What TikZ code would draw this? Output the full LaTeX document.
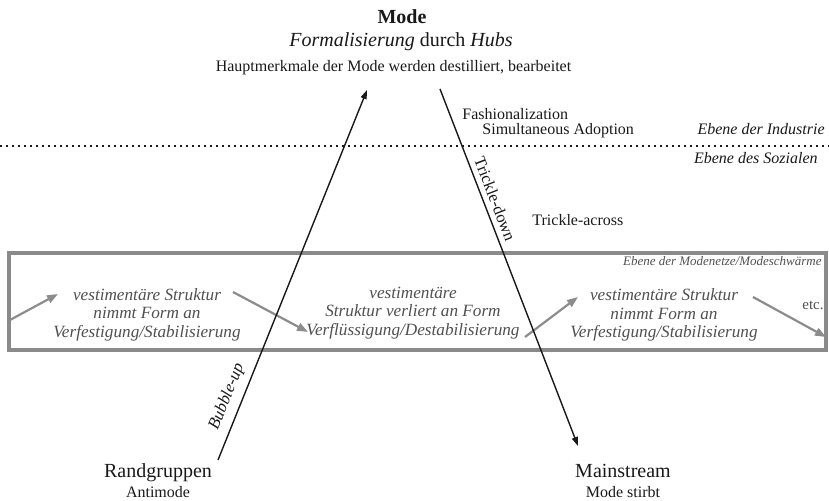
\documentclass[tikz,border=0pt]{standalone}
\usepackage{fontspec}
\setmainfont{Liberation Serif}
\usetikzlibrary{arrows.meta}
\definecolor{boxgray}{RGB}{138,138,138}
\definecolor{arrgray}{RGB}{140,140,140}
\definecolor{boxtext}{RGB}{80,80,80}
\definecolor{ink}{RGB}{25,25,25}
\begin{document}
\begin{tikzpicture}[x=0.5pt,y=-0.5pt,
  lbl/.style={inner sep=0pt,anchor=base,text=ink},
  big/.style={font=\fontsize{10}{12}\selectfont},
  small/.style={font=\fontsize{8}{9.6}\selectfont},
  blk/.style={inner sep=0pt,align=center,text=boxtext,font=\fontsize{8.6}{9.25}\selectfont\itshape},
  flow/.style={draw=ink,line width=0.7pt,-{Triangle[length=4.5pt,width=3pt]}},
  garrow/.style={draw=arrgray,line width=1.1pt,-{Triangle[length=5.5pt,width=4pt]}},
  rotlbl/.style={inner sep=0pt,text=ink,font=\fontsize{8.2}{9.6}\selectfont}]
\useasboundingbox (0,0) rectangle (829,501);

% top
\node[lbl,font=\fontsize{10}{12}\selectfont\bfseries] (mode) at (402,24) {Mode};
\node[lbl,big] (formal) at (401,47) {\textit{Formalisierung} durch \textit{Hubs}};
\node[lbl,small] (haupt) at (393.5,72) {Hauptmerkmale der Mode werden destilliert, bearbeitet};

% industry level
\node[lbl,small,anchor=base west] (fashion) at (462,120) {Fashionalization};
\node[lbl,small,anchor=base west] (simult) at (482,135) {Simultaneous Adoption};
\node[lbl,small,anchor=base east,font=\fontsize{8}{9.6}\selectfont\itshape] (industrie) at (825,135) {Ebene der Industrie};
\node[lbl,small,anchor=base east,font=\fontsize{8}{9.6}\selectfont\itshape] (sozial) at (818,164) {Ebene des Sozialen};
\coordinate (dotL) at (0,146);
\coordinate (dotR) at (829,146);
\draw[ink,line width=0.9pt,dash pattern=on 0.9pt off 2.1pt] (dotL) -- (dotR);

\node[lbl,small,anchor=base west] (across) at (532,226) {Trickle-across};

% fashion network box
\node[draw=boxgray,line width=1.7pt,inner sep=0pt,minimum width=817*0.5pt,minimum height=97*0.5pt] (netbox) at (417.5,301.5) {};
\node[lbl,anchor=base east,text=boxtext,font=\fontsize{6.5}{7.8}\selectfont\itshape] (netlbl) at (822,266) {Ebene der Modenetze/Modeschwärme};

\node[blk] (b1) at (147,314.5) {vestimentäre Struktur\\nimmt Form an\\Verfestigung/Stabilisierung};
\node[blk] (b2) at (413,313) {vestimentäre\\Struktur verliert an Form\\Verflüssigung/Destabilisierung};
\node[blk] (b3) at (664,315) {vestimentäre Struktur\\nimmt Form an\\Verfestigung/Stabilisierung};
\node[lbl,text=boxtext,font=\fontsize{7.5}{9}\selectfont] (etc) at (813,310) {etc.};

\coordinate (g1s) at (10,320);
\coordinate (g1e) at (58,294);
\coordinate (g2s) at (233,292);
\coordinate (g2e) at (308,332);
\coordinate (g3s) at (525,337);
\coordinate (g3e) at (578,297);
\coordinate (g4s) at (753,297);
\coordinate (g4e) at (826,337);
\draw[garrow] (g1s) -- (g1e);
\draw[garrow] (g2s) -- (g2e);
\draw[garrow] (g3s) -- (g3e);
\draw[garrow] (g4s) -- (g4e);

% bottom
\node[lbl,big] (rand) at (158,478) {Randgruppen};
\node[lbl,small] (antimode) at (158,497) {Antimode};
\node[lbl,big] (mainstream) at (623,478) {Mainstream};
\node[lbl,small] (stirbt) at (623,497) {Mode stirbt};

% main flows
\coordinate (bub0) at (218,460);
\coordinate (bub1) at (367,90);
\coordinate (tr0) at (440,89);
\coordinate (tr1) at (578,446);
\draw[flow] (bub0) -- (bub1);
\draw[flow] (tr0) -- (tr1);
\node[rotlbl,rotate=68.1,font=\fontsize{8.4}{9.6}\selectfont\itshape] (bublbl) at (227,397) {Bubble-up};
\node[rotlbl,rotate=-68.9] (trlbl) at (495,199) {Trickle-down};
\end{tikzpicture}
\end{document}
